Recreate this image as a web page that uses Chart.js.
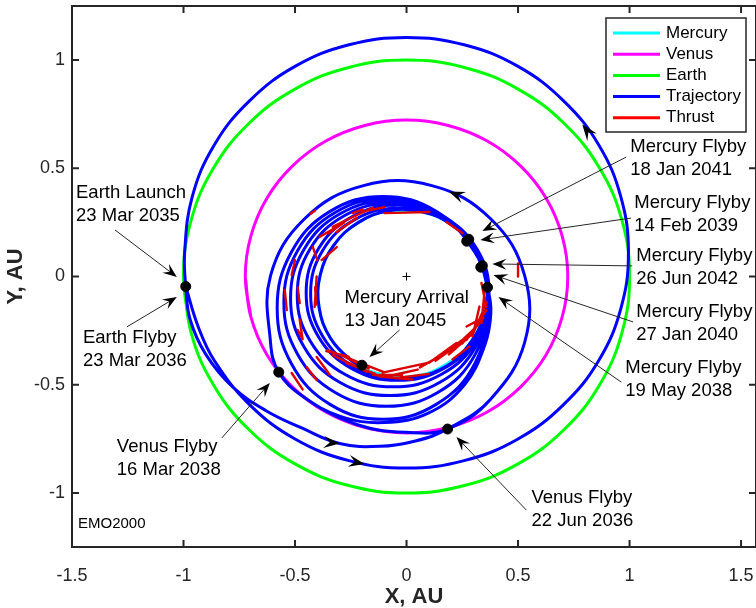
<!DOCTYPE html>
<html>
<head>
<meta charset="utf-8">
<script src="https://cdn.jsdelivr.net/npm/chart.js@4.4.0/dist/chart.umd.min.js"></script>
<style>html,body{margin:0;padding:0;overflow:hidden;background:#fff}</style>
</head>
<body>
<canvas id="myChart" width="762" height="608"></canvas>
<script>
// axis ticks
var xTicks = [-1.5, -1, -0.5, 0, 0.5, 1, 1.5];
var xTickLabels = ['-1.5', '-1', '-0.5', '0', '0.5', '1', '1.5'];
var yTicks = [-1, -0.5, 0, 0.5, 1];
var yTickLabels = ['-1', '-0.5', '0', '0.5', '1'];

var legendLabels = ['Mercury', 'Venus', 'Earth', 'Trajectory', 'Thrust'];
var legendColors = ['#00ffff', '#ff00ff', '#00ff00', '#0000ff', '#ff0000'];

// planet orbits (AU)
var earthOrbit = [[-1,0],[-0.966,-0.259],[-0.866,-0.5],[-0.707,-0.707],[-0.5,-0.866],[-0.259,-0.966],[0,-1],
  [0.259,-0.966],[0.5,-0.866],[0.707,-0.707],[0.866,-0.5],[0.966,-0.259],[1,0],[0.966,0.259],[0.866,0.5],
  [0.707,0.707],[0.5,0.866],[0.259,0.966],[0,1],[-0.259,0.966],[-0.5,0.866],[-0.707,0.707],[-0.866,0.5],
  [-0.966,0.259],[-1,0],[-0.966,-0.259]];
var venusOrbit = [[-0.723,0],[-0.698,-0.187],[-0.626,-0.362],[-0.511,-0.511],[-0.362,-0.626],[-0.187,-0.698],[0,-0.723],
  [0.187,-0.698],[0.362,-0.626],[0.511,-0.511],[0.626,-0.362],[0.698,-0.187],[0.723,0],[0.698,0.187],[0.626,0.362],
  [0.511,0.511],[0.362,0.626],[0.187,0.698],[0,0.723],[-0.187,0.698],[-0.362,0.626],[-0.511,0.511],[-0.626,0.362],
  [-0.698,0.187],[-0.723,0],[-0.698,-0.187]];
var mercuryOrbit = [[0.069,0.299],[-0.078,0.304],[-0.217,0.249],[-0.326,0.145],[-0.387,0.007],[-0.392,-0.143],
  [-0.341,-0.285],[-0.240,-0.394],[-0.105,-0.455],[0.042,-0.460],[0.181,-0.405],[0.290,-0.301],[0.351,-0.163],
  [0.356,-0.013],[0.305,0.129],[0.204,0.238],[0.069,0.299],[-0.078,0.304]];

// trajectory pieces
var launchLoop = [[-0.99,-0.046],[-0.935,-0.23],[-0.862,-0.388],[-0.703,-0.593],[-0.498,-0.752],[-0.258,-0.851],
  [0,-0.885],[0.258,-0.851],[0.498,-0.752],[0.703,-0.593],[0.862,-0.388],[0.961,-0.148],[0.995,0.11],[0.961,0.368],
  [0.862,0.608],[0.703,0.813],[0.498,0.972],[0.258,1.071],[0,1.105],[-0.258,1.071],[-0.498,0.972],[-0.703,0.813],
  [-0.862,0.608],[-0.961,0.368],[-0.995,0.11],[-0.99,-0.046]];
var earthToVenus = [[-0.97,-0.2],[-0.9,-0.36],[-0.78,-0.51],[-0.63,-0.62],[-0.47,-0.7],[-0.3,-0.772],
  [-0.12,-0.785],[0.04,-0.76],[0.184,-0.705]];
var venusLoops = [[0.377,-0.567],[0.53,-0.303],[0.53,0.003],[0.377,0.267],[0.113,0.42],[-0.193,0.42],[-0.457,0.267],
  [-0.61,0.003],[-0.61,-0.303],[-0.573,-0.442],[-0.45,-0.565],[-0.22,-0.685],[0,-0.72],[0.184,-0.705],
  [0.377,-0.567],[0.53,-0.303],[0.53,0.003],[0.377,0.267],[0.113,0.42],[-0.193,0.42],[-0.457,0.267],
  [-0.61,0.003],[-0.61,-0.303],[-0.573,-0.442]];
var toMercury = [[-0.47,-0.55],[-0.3,-0.645],[-0.1,-0.675],[0.1,-0.63],[0.26,-0.5],[0.35,-0.32],[0.378,-0.17],[0.363,-0.05]];
var resonantLoops = [
  [0.306,0.113],[0.133,0.301],[-0.105,0.37],[-0.343,0.301],[-0.516,0.113],[-0.58,-0.145],[-0.516,-0.403],
  [-0.343,-0.591],[-0.105,-0.66],[0.133,-0.591],[0.306,-0.403],
  [0.37,-0.12],[0.308,0.12],[0.14,0.296],[-0.09,0.36],[-0.32,0.296],[-0.488,0.12],[-0.55,-0.12],[-0.488,-0.36],
  [-0.32,-0.536],[-0.09,-0.6],[0.14,-0.536],[0.308,-0.36],
  [0.37,-0.1],[0.31,0.125],[0.148,0.29],[-0.075,0.35],[-0.298,0.29],[-0.46,0.125],[-0.52,-0.1],[-0.46,-0.325],
  [-0.298,-0.49],[-0.075,-0.55],[0.148,-0.49],[0.31,-0.325],
  [0.37,-0.085],[0.312,0.128],[0.155,0.283],[-0.06,0.34],[-0.275,0.283],[-0.432,0.128],[-0.49,-0.085],
  [-0.432,-0.298],[-0.275,-0.453],[-0.06,-0.51],[0.155,-0.453],[0.312,-0.298],
  [0.37,-0.075],[0.315,0.128],[0.165,0.276],[-0.04,0.33],[-0.245,0.276],[-0.395,0.128],[-0.45,-0.075],
  [-0.395,-0.278],[-0.245,-0.426],[-0.04,-0.48],[0.165,-0.426],[0.315,-0.278],
  [0.37,-0.078],[0.316,0.12],[0.17,0.264],[-0.03,0.317],[-0.23,0.264],[-0.376,0.12],[-0.43,-0.078],
  [-0.376,-0.276],[-0.23,-0.42],[-0.03,-0.473],[0.17,-0.42]];
var finalOrbit = [[0.29,-0.301],[0.351,-0.163],[0.356,-0.013],[0.305,0.129],[0.204,0.238],[0.069,0.299],
  [-0.078,0.304],[-0.217,0.249],[-0.326,0.145],[-0.387,0.007],[-0.392,-0.143],[-0.341,-0.285],[-0.24,-0.394],[-0.2,-0.41]];

// thrust arcs: x1, y1, x2, y2
var thrustArcs = [
  [-0.313,0.206,-0.224,0.27],[-0.242,0.275,-0.152,0.317],[-0.381,0.076,-0.313,0.136],[-0.42,0.136,-0.4,0.076],
  [-0.5,0.076,-0.515,0.007],[-0.403,0,-0.412,-0.141],[-0.488,-0.05,-0.479,-0.123],[-0.546,-0.062,-0.537,-0.155],
  [-0.479,-0.2,-0.466,-0.29],[-0.099,0.293,0.103,0.298],[-0.242,0.293,-0.197,0.31],[-0.331,0.229,-0.242,0.275],
  [-0.39,0.183,-0.313,0.229],[0.179,0.252,0.251,0.2],[0.336,-0.03,0.358,-0.14],[0.349,-0.076,0.336,-0.215],
  [0.327,-0.139,0.296,-0.277],[0.358,-0.155,0.269,-0.293],[0.313,-0.233,0.206,-0.337],[0.269,-0.279,0.148,-0.37],
  [0.224,-0.307,0.103,-0.397],[0.09,-0.4,-0.107,-0.444],[-0.354,-0.34,-0.107,-0.44],[-0.331,-0.363,-0.179,-0.44],
  [-0.287,-0.386,-0.121,-0.462],[-0.121,-0.462,0.027,-0.476],[0.269,-0.231,0.345,-0.19],[0.206,-0.383,0.282,-0.323],
  [-0.515,-0.446,-0.466,-0.522],[-0.448,-0.418,-0.403,-0.478],[-0.403,-0.372,-0.345,-0.453],[-0.488,-0.247,-0.466,-0.29],
  [0.5,0.06,0.5,0.0],[-0.43,0.29,-0.41,0.305],
  [0.36,-0.12,0.3,-0.26],[0.34,-0.2,0.25,-0.31],[0.3,-0.26,0.19,-0.36],[0.25,-0.3,0.13,-0.39],
  [0.18,-0.35,0.06,-0.42],[0.05,-0.43,-0.08,-0.46],[-0.02,-0.455,-0.15,-0.455],[-0.3,-0.36,-0.17,-0.425],
  [-0.27,-0.4,-0.14,-0.45],[-0.36,-0.345,-0.26,-0.37],[0.1,-0.45,-0.05,-0.47],[-0.35,0.2,-0.28,0.25],
  [-0.2,0.3,-0.1,0.32],[-0.41,-0.05,-0.405,-0.13]];

// flyby / arrival positions
var encounters = [[-0.99,-0.046],[0.184,-0.705],[-0.573,-0.442],[0.363,-0.05],[0.27,0.163],[0.279,0.172],
  [0.333,0.043],[0.34,0.05],[-0.2,-0.41]];
var sun = [[0, 0]];

function toXY(arr) { return arr.map(function (p) { return {x: p[0], y: p[1]}; }); }
var trajectory = [].concat(launchLoop, earthToVenus, venusLoops, toMercury, resonantLoops, finalOrbit);
var thrustData = [];
thrustArcs.forEach(function (s) {
  thrustData.push({x: s[0], y: s[1]}, {x: s[2], y: s[3]}, {x: s[2], y: null});
});

// callouts, placed in data coordinates
var notes = [
  {text: ['Earth Launch', '23 Mar 2035'], at: [-1.482, 0.386], from: [-1.307, 0.215], to: [-1.03, -0.002]},
  {text: ['Earth Flyby', '23 Mar 2036'], at: [-1.451, -0.284], from: [-1.254, -0.233], to: [-1.03, -0.095]},
  {text: ['Venus Flyby', '16 Mar 2038'], at: [-1.299, -0.788], from: [-0.828, -0.746], to: [-0.613, -0.492]},
  {text: ['Venus Flyby', '22 Jun 2036'], at: [0.56, -1.023], from: [0.537, -1.079], to: [0.224, -0.742]},
  {text: ['Mercury Arrival', '13 Jan 2045'], at: [-0.278, -0.099], from: [-0.031, -0.247], to: [-0.166, -0.372]},
  {text: ['Mercury Flyby', '18 Jan 2041'], at: [1.003, 0.598], from: [0.985, 0.552], to: [0.34, 0.21]},
  {text: ['Mercury Flyby', '14 Feb 2039'], at: [1.021, 0.34], from: [1.007, 0.27], to: [0.331, 0.169]},
  {text: ['Mercury Flyby', '26 Jun 2042'], at: [1.03, 0.095], from: [1.012, 0.049], to: [0.385, 0.058]},
  {text: ['Mercury Flyby', '27 Jan 2040'], at: [1.03, -0.164], from: [1.016, -0.21], to: [0.39, 0.007]},
  {text: ['Mercury Flyby', '19 May 2038'], at: [0.981, -0.423], from: [0.963, -0.488], to: [0.412, -0.095]}
];
var dirArrows = [
  {at: [0.788, 0.702], toward: [0.728, 0.782]},
  {at: [0.19, 0.393], toward: [0.136, 0.416]},
  {at: [-0.3, -0.772], toward: [-0.2, -0.782]},
  {at: [-0.188, -0.866], toward: [-0.09, -0.885]}
];

var fontFamily = '"Liberation Sans", Arial, Helvetica, sans-serif';
var ink = '#262626';

function toPx(chart, p) {
  return [chart.scales.x.getPixelForValue(p[0]), chart.scales.y.getPixelForValue(p[1])];
}
function head(ctx, tip, ang, len, wid) {
  ctx.save();
  ctx.translate(tip[0], tip[1]);
  ctx.rotate(ang);
  ctx.beginPath();
  ctx.moveTo(0, 0);
  ctx.lineTo(-len, -wid / 2);
  ctx.lineTo(-len * 0.62, 0);
  ctx.lineTo(-len, wid / 2);
  ctx.closePath();
  ctx.fill();
  ctx.restore();
}
function noPadding(s) {
  s.paddingLeft = 0; s.paddingRight = 0; s.paddingTop = 0; s.paddingBottom = 0;
}

var annotate = {
  id: 'annotate',
  afterDatasetsDraw: function (chart) {
    var ctx = chart.ctx;
    ctx.save();
    ctx.fillStyle = '#000';
    dirArrows.forEach(function (d) {
      var a = toPx(chart, d.at), b = toPx(chart, d.toward);
      head(ctx, a, Math.atan2(b[1] - a[1], b[0] - a[0]), 16, 12);
    });
    notes.forEach(function (n) {
      var t = toPx(chart, n.to), f = toPx(chart, n.from);
      var ang = Math.atan2(t[1] - f[1], t[0] - f[0]);
      ctx.strokeStyle = ink;
      ctx.lineWidth = 1;
      ctx.beginPath();
      ctx.moveTo(f[0], f[1]);
      ctx.lineTo(t[0] - 8 * Math.cos(ang), t[1] - 8 * Math.sin(ang));
      ctx.stroke();
      ctx.fillStyle = '#000';
      head(ctx, t, ang, 14, 11);
      var p = toPx(chart, n.at);
      ctx.font = '18.5px ' + fontFamily;
      ctx.textBaseline = 'middle';
      ctx.textAlign = 'left';
      n.text.forEach(function (s, i) { ctx.fillText(s, p[0], p[1] + i * 23); });
    });
    var e = toPx(chart, [-1.473, -1.144]);
    ctx.font = '15px ' + fontFamily;
    ctx.fillText('EMO2000', e[0], e[1]);
    ctx.restore();
  },
  afterDraw: function (chart) {
    var ctx = chart.ctx, a = chart.chartArea, x = chart.scales.x, y = chart.scales.y;
    ctx.save();
    ctx.strokeStyle = ink;
    ctx.lineWidth = 2;
    ctx.strokeRect(a.left, a.top, a.right - a.left, a.bottom - a.top);
    ctx.beginPath();
    xTicks.forEach(function (v) {
      var p = x.getPixelForValue(v);
      ctx.moveTo(p, a.bottom); ctx.lineTo(p, a.bottom - 7);
      ctx.moveTo(p, a.top); ctx.lineTo(p, a.top + 7);
    });
    yTicks.forEach(function (v) {
      var p = y.getPixelForValue(v);
      ctx.moveTo(a.left, p); ctx.lineTo(a.left + 7, p);
      ctx.moveTo(a.right, p); ctx.lineTo(a.right - 7, p);
    });
    ctx.stroke();

    // legend box
    var lx = 606, ly = 18, lw = 140, lh = 114;
    ctx.fillStyle = '#fff';
    ctx.fillRect(lx, ly, lw, lh);
    ctx.lineWidth = 1.5;
    ctx.strokeRect(lx, ly, lw, lh);
    ctx.font = '17px ' + fontFamily;
    ctx.textBaseline = 'middle';
    ctx.textAlign = 'left';
    legendLabels.forEach(function (label, i) {
      var ry = ly + 15 + i * 21.2;
      ctx.strokeStyle = legendColors[i];
      ctx.lineWidth = 3;
      ctx.beginPath(); ctx.moveTo(lx + 7, ry); ctx.lineTo(lx + 54, ry); ctx.stroke();
      ctx.fillStyle = '#000';
      ctx.fillText(label, lx + 60, ry);
    });
    ctx.restore();
  }
};

var ctx = document.getElementById('myChart').getContext('2d');
var myChart = new Chart(ctx, {
  type: 'scatter',
  data: {
    datasets: [
      {label: 'Encounters', data: toXY(encounters), pointRadius: 5, pointBackgroundColor: '#000', pointBorderColor: '#000', showLine: false},
      {label: 'Sun', data: toXY(sun), pointStyle: 'cross', pointRadius: 4, pointBorderColor: '#000', pointBorderWidth: 1, showLine: false},
      {label: 'Thrust', data: thrustData, showLine: true, spanGaps: false, borderColor: '#dd0000', borderWidth: 2.4, pointRadius: 0, tension: 0},
      {label: 'Trajectory', data: toXY(trajectory), showLine: true, borderColor: '#0000ff', borderWidth: 3, pointRadius: 0, tension: 0.4},
      {label: 'Mercury', data: toXY(mercuryOrbit), showLine: true, borderColor: '#00ffff', borderWidth: 3, pointRadius: 0, tension: 0.4},
      {label: 'Venus', data: toXY(venusOrbit), showLine: true, borderColor: '#ff00ff', borderWidth: 3, pointRadius: 0, tension: 0.4},
      {label: 'Earth', data: toXY(earthOrbit), showLine: true, borderColor: '#00ff00', borderWidth: 3, pointRadius: 0, tension: 0.4}
    ]
  },
  options: {
    responsive: false,
    animation: false,
    devicePixelRatio: 1,
    layout: {padding: {top: 6, right: 5, left: 0, bottom: 0}},
    plugins: {legend: {display: false}, tooltip: {enabled: false}},
    elements: {line: {borderCapStyle: 'round', borderJoinStyle: 'round'}},
    scales: {
      x: {
        type: 'linear', min: -1.5, max: 1.567,
        grid: {display: false, drawTicks: false},
        border: {display: false},
        afterBuildTicks: function (s) { s.ticks = xTicks.map(function (v) { return {value: v}; }); },
        afterFit: function (s) { s.height = 61; noPadding(s); },
        ticks: {padding: 18, color: ink, font: {family: fontFamily, size: 18},
          callback: function (v, i) { return xTickLabels[i]; }},
        title: {display: true, text: 'X, AU', color: ink, padding: 0,
          font: {family: fontFamily, size: 22, weight: 'bold', lineHeight: 1}}
      },
      y: {
        type: 'linear', min: -1.25, max: 1.25,
        grid: {display: false, drawTicks: false},
        border: {display: false},
        afterBuildTicks: function (s) { s.ticks = yTicks.map(function (v) { return {value: v}; }); },
        afterFit: function (s) { s.width = 72; noPadding(s); },
        ticks: {padding: 7, color: ink, font: {family: fontFamily, size: 18},
          callback: function (v, i) { return yTickLabels[i]; }},
        title: {display: true, text: 'Y, AU', color: ink, padding: {top: 5, bottom: 0},
          font: {family: fontFamily, size: 22, weight: 'bold', lineHeight: 1}}
      }
    }
  },
  plugins: [annotate]
});
</script>
</body>
</html>
